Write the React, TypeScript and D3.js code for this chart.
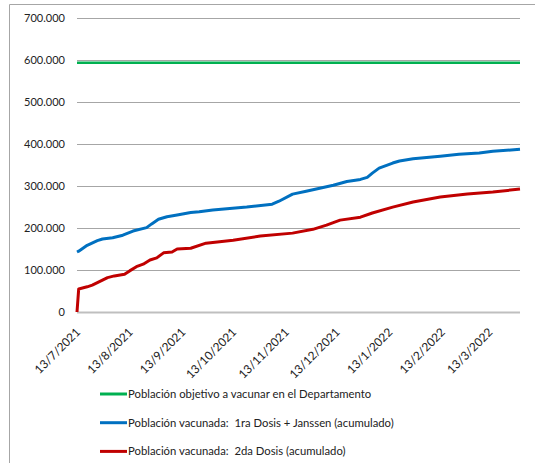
import * as d3 from "d3";

// fechas y valores
const blueDates = ["2021-07-13", "2021-07-14", "2021-07-19", "2021-07-25", "2021-07-28", "2021-08-03", "2021-08-09", "2021-08-15", "2021-08-23", "2021-08-26", "2021-08-30", "2021-09-04", "2021-09-10", "2021-09-18", "2021-09-23", "2021-10-01", "2021-10-21", "2021-11-05", "2021-11-09", "2021-11-17", "2021-11-25", "2021-12-11", "2021-12-19", "2021-12-27", "2021-12-31", "2022-01-03", "2022-01-07", "2022-01-15", "2022-01-19", "2022-01-27", "2022-02-12", "2022-02-23", "2022-03-07", "2022-03-15", "2022-03-31"];
const blueValues = [143000, 145000, 159000, 170000, 174000, 177000, 183000, 193000, 201000, 210000, 221000, 227000, 231000, 237000, 239000, 243000, 250000, 257000, 264000, 281000, 288000, 302000, 311000, 316000, 321000, 331000, 343000, 355000, 360000, 365000, 371000, 376000, 379000, 383000, 388000];

const redDates = ["2021-07-13", "2021-07-14", "2021-07-19", "2021-07-22", "2021-07-28", "2021-07-31", "2021-08-04", "2021-08-10", "2021-08-13", "2021-08-17", "2021-08-21", "2021-08-25", "2021-08-29", "2021-09-02", "2021-09-07", "2021-09-10", "2021-09-18", "2021-09-27", "2021-10-13", "2021-10-29", "2021-11-17", "2021-11-29", "2021-12-07", "2021-12-15", "2021-12-27", "2022-01-03", "2022-01-15", "2022-01-27", "2022-02-12", "2022-02-28", "2022-03-15", "2022-03-31"];
const redValues = [0, 55000, 60000, 64000, 76000, 82000, 86000, 90000, 98000, 108000, 114000, 124000, 129000, 141000, 143000, 150000, 152000, 164000, 171000, 181000, 188000, 197000, 207000, 219000, 226000, 236000, 250000, 262000, 274000, 281000, 286000, 293000];

const greenDates = ["2021-07-13", "2022-03-31"];
const greenValues = [594000, 594000];

const yTicks = [0, 100000, 200000, 300000, 400000, 500000, 600000, 700000];
const xTickDates = ["2021-07-13", "2021-08-13", "2021-09-13", "2021-10-13", "2021-11-13", "2021-12-13", "2022-01-13", "2022-02-13", "2022-03-13"];

const legendLabels = [
  "Población objetivo a vacunar en el Departamento",
  "Población vacunada:  1ra Dosis + Janssen (acumulado)",
  "Población vacunada:  2da Dosis (acumulado)",
];
const colors = ["#00b050", "#0070c0", "#c00000"];

const W = 535;
const H = 463;
const parse = d3.utcParse("%Y-%m-%d");
const fmtTick = (s: string) => {
  const d = parse(s)!;
  return `${d.getUTCDate()}/${d.getUTCMonth() + 1}/${d.getUTCFullYear()}`;
};
const fmtY = (v: number) => (v === 0 ? "0" : d3.format(",")(v).replace(/,/g, "."));

export default function App() {
  const x = d3
    .scaleUtc()
    .domain([parse("2021-07-13")!, parse("2022-03-31")!])
    .range([77, 520]);
  const y = d3.scaleLinear().domain([0, 700000]).range([312, 18.3]);

  const line = d3
    .line<[Date, number]>()
    .x((d) => x(d[0]))
    .y((d) => y(d[1]));

  const series = [
    { dates: greenDates, values: greenValues },
    { dates: blueDates, values: blueValues },
    { dates: redDates, values: redValues },
  ].map((s) => s.dates.map((d, i) => [parse(d)!, s.values[i]] as [Date, number]));

  const font = "Lato, 'Open Sans', sans-serif";

  return (
    <svg
      width={W}
      height={H}
      style={{ position: "absolute", left: 0, top: 0, background: "#fff" }}
      fontFamily={font}
    >
      <rect width={W} height={H} fill="#fff" />
      {/* borde del área del gráfico */}
      <path d={`M9.5,${H} V4.5 H${W}`} fill="none" stroke="#a6a6a6" strokeWidth={1} />

      {/* líneas de cuadrícula */}
      {yTicks.map((t) => (
        <g key={t}>
          <line
            x1={77}
            x2={520}
            y1={Math.round(y(t)) + 0.5}
            y2={Math.round(y(t)) + 0.5}
            stroke={t === 0 ? "#bfbfbf" : "#a6a6a6"}
            strokeWidth={t === 0 ? 2 : 1}
          />
          <text x={65} y={y(t)} dy="0.35em" textAnchor="end" fontSize={11} fill="#222">
            {fmtY(t)}
          </text>
        </g>
      ))}

      {/* etiquetas del eje x */}
      {xTickDates.map((d) => {
        const px = x(parse(d)!) + 4;
        const py = 333;
        return (
          <text
            key={d}
            x={px}
            y={py}
            textAnchor="end"
            fontSize={11.8}
            fill="#222"
            transform={`rotate(-45 ${px} ${py})`}
          >
            {fmtTick(d)}
          </text>
        );
      })}

      {/* series */}
      {series.map((s, i) => (
        <path
          key={i}
          d={line(s) || ""}
          fill="none"
          stroke={colors[i]}
          strokeWidth={i === 0 ? 2.5 : 3}
          strokeLinejoin="round"
        />
      ))}

      {/* leyenda */}
      {legendLabels.map((label, i) => {
        const ly = 394 + i * 28.7;
        return (
          <g key={label}>
            <line x1={100} x2={127} y1={ly} y2={ly} stroke={colors[i]} strokeWidth={3} />
            <text
              x={128}
              y={ly}
              dy="0.35em"
              fontSize={11.3}
              fill="#222"
              style={{ whiteSpace: "pre" }}
            >
              {label}
            </text>
          </g>
        );
      })}
    </svg>
  );
}
